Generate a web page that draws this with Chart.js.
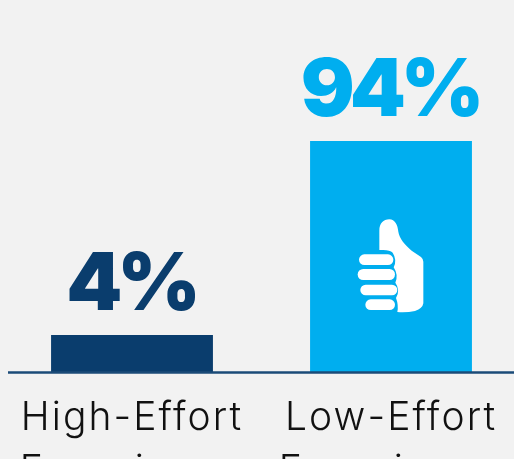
<!DOCTYPE html>
<html>
<head>
<meta charset="utf-8">
<title>Effort</title>
<script src="https://cdn.jsdelivr.net/npm/chart.js@4"></script>
<style>
html, body { margin: 0; background: #f2f2f2; overflow: hidden; }
#wrap { width: 514px; height: 459px; overflow: hidden; }
canvas { display: block; }
</style>
</head>
<body>
<div id="wrap"><canvas id="myChart" width="530" height="520"></canvas></div>
<script>
const categories = [['High-Effort', 'Experience'], ['Low-Effort', 'Experience']];
const shares = [4, 94];
const barColors = ['#0a3d6d', '#00aeef'];

// bar value labels with a % sign
const valueLabels = {
    id: 'valueLabels',
    afterDatasetsDraw(chart) {
        const ctx = chart.ctx;
        const bars = chart.getDatasetMeta(0).data;
        ctx.save();
        ctx.font = '900 80px Inter';
        ctx.letterSpacing = '-5px';
        ctx.textAlign = 'center';
        ctx.textBaseline = 'alphabetic';
        bars.forEach((bar, i) => {
            ctx.fillStyle = barColors[i];
            ctx.fillText(shares[i] + '%', bar.x - 1, bar.y - 25);
        });
        ctx.restore();
    }
};

// thumbs up on the tall bar
const thumbIcon = {
    id: 'thumbIcon',
    afterDatasetsDraw(chart) {
        const ctx = chart.ctx;
        const bar = chart.getDatasetMeta(0).data[1];
        const mid = (bar.y + bar.base) / 2;
        ctx.save();
        ctx.translate(bar.x - 51, mid - 46.5);
        ctx.scale(1 / 3, 1 / 3);
        ctx.fillStyle = '#ffffff';
        ctx.fill(new Path2D('M118,62 C118,40 130,28 148,28 C165,28 173,45 175,65 C178,85 195,105 215,122 L243,141 Q250,147 250,155 L250,280 Q248,295 225,303 Q200,308 172,306 Q176,285 168,264 Q182,240 166,218 Q176,195 161,172 Q172,150 158,128 Q150,120 130,120 L118,120 Z'));
        const fingers = [[57, 133, 103, 32], [53, 177, 112, 33], [61, 224, 111, 32], [76, 268, 89, 32]];
        fingers.forEach(f => {
            ctx.beginPath();
            ctx.roundRect(f[0], f[1], f[2], f[3], f[3] / 2);
            ctx.fill();
        });
        ctx.restore();
    }
};

// baseline starts a little in from the left edge
const baseline = {
    id: 'baseline',
    afterDatasetsDraw(chart) {
        const ctx = chart.ctx;
        const y = chart.scales.y.bottom + 0.5;
        ctx.save();
        ctx.strokeStyle = '#1b4b78';
        ctx.lineWidth = 2.5;
        ctx.beginPath();
        ctx.moveTo(8, y);
        ctx.lineTo(chart.width, y);
        ctx.stroke();
        ctx.restore();
    }
};

// wider tracking for the category labels
const tickTracking = {
    id: 'tickTracking',
    beforeDraw(chart) {
        chart.ctx.letterSpacing = '2.1px';
    }
};

new Chart(document.getElementById('myChart').getContext('2d'), {
    type: 'bar',
    data: {
        labels: categories,
        datasets: [{
            data: shares,
            backgroundColor: barColors,
            barPercentage: 0.625,
            categoryPercentage: 1
        }]
    },
    options: {
        responsive: false,
        animation: false,
        layout: { padding: { left: 2.5, right: 9.5, top: 141 } },
        plugins: { legend: { display: false }, tooltip: { enabled: false } },
        scales: {
            x: {
                grid: { display: false },
                border: { display: false },
                afterFit(scale) { scale.height = 148; },
                ticks: {
                    color: '#111111',
                    maxRotation: 0,
                    autoSkip: false,
                    padding: 12,
                    font: { family: 'Inter', size: 39, weight: 300, lineHeight: 1.36 }
                }
            },
            y: {
                type: 'logarithmic',
                display: false,
                min: 2.19,
                max: 94,
                grid: { display: false }
            }
        }
    },
    plugins: [tickTracking, baseline, valueLabels, thumbIcon]
});
</script>
</body>
</html>
